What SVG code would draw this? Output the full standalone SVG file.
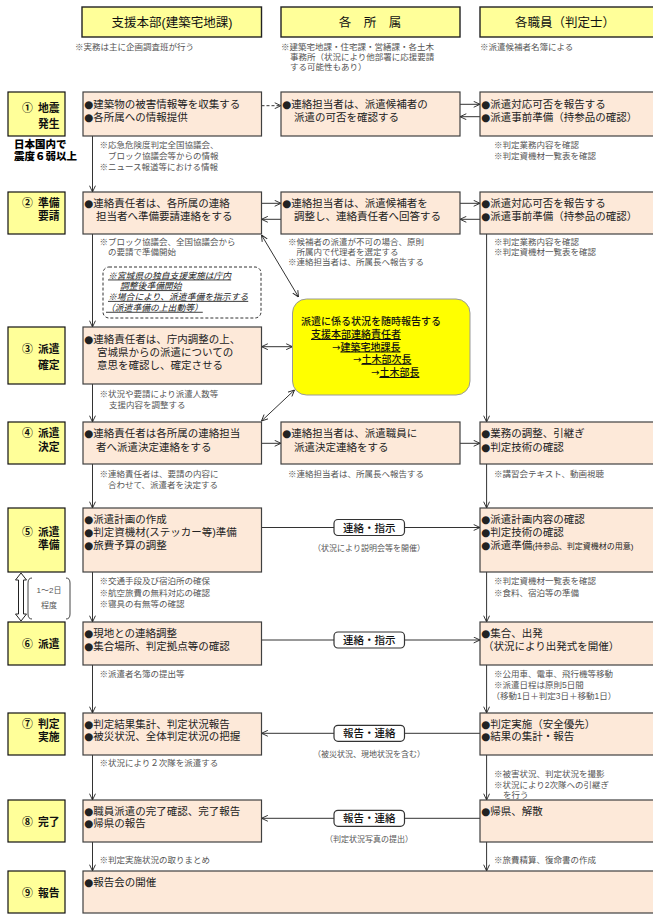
<svg xmlns="http://www.w3.org/2000/svg" width="653" height="915" viewBox="0 0 653 915">
<defs>
<style>
text{font-family:"Liberation Sans","Noto Sans CJK JP",sans-serif;}
.b{font-family:"DejaVu Sans",sans-serif}
.ar{font-family:"DejaVu Sans",sans-serif}
.hdr{fill:#ffff99;stroke:#222;stroke-width:1.4}
.ht{font-size:12.5px;fill:#111;text-anchor:middle}
.stg{fill:#ffff99;stroke:#111;stroke-width:1.2}
.st{font-size:10.8px;font-weight:700;fill:#111}
.box{fill:#fde9d9;stroke:#404040;stroke-width:1.2}
.bt{font-size:10.5px;fill:#222}
.nt{font-size:8.5px;fill:#555}
.lbl{fill:#fff;stroke:#333;stroke-width:1.2}
.lt{font-size:10.5px;fill:#111;text-anchor:middle;font-weight:500}
.sub{font-size:8px;fill:#555;text-anchor:middle}
.cn{fill:none;stroke:#333;stroke-width:1}
.dn{font-size:8.8px;fill:#222;font-style:italic;text-decoration:underline}
.yt{font-size:10px;fill:#111;font-weight:500}
.u{text-decoration:underline}
</style>
<marker id="ah" viewBox="0 0 10 10" refX="9.5" refY="5" markerWidth="7" markerHeight="7" markerUnits="userSpaceOnUse" orient="auto-start-reverse">
<path d="M0.5,0.8 L9.5,5 L0.5,9.2" fill="none" stroke="#222" stroke-width="1.3"/>
</marker>
</defs>
<rect x="0" y="0" width="653" height="915" fill="#fff"/>

<!-- headers -->
<g id="hdr-honbu"><rect class="hdr" x="82" y="7" width="179.5" height="30"/><text class="ht" x="172" y="27">支援本部(建築宅地課)</text></g>
<g id="hdr-shozoku"><rect class="hdr" x="281" y="7" width="179" height="30"/><text class="ht" x="370" y="27">各　所　属</text></g>
<g id="hdr-shokuin"><rect class="hdr" x="480" y="7" width="180" height="30"/><text class="ht" x="565" y="27">各職員（判定士）</text></g>
<g id="hdr-notes">
<text class="nt" x="75" y="50">※実務は主に企画調査班が行う</text>
<text class="nt" x="281" y="50">※建築宅地課・住宅課・営繕課・各土木<tspan x="290" y="60">事務所（状況により他部署に応援要請</tspan><tspan x="290" y="70">する可能性もあり）</tspan></text>
<text class="nt" x="480" y="50">※派遣候補者名簿による</text>
</g>

<!-- connectors -->
<g id="connectors" class="cn">
<path d="M261.5,105.7 H281" stroke-dasharray="3,2" marker-end="url(#ah)"/>
<path d="M460,104.3 H480" marker-end="url(#ah)"/>
<path d="M480,116.7 H460" marker-end="url(#ah)"/>
<path d="M92.5,136 V192" marker-end="url(#ah)"/>
<path d="M261.5,203.3 H281" marker-end="url(#ah)"/>
<path d="M281,219.3 H261.5" marker-end="url(#ah)"/>
<path d="M460,203.3 H480" marker-end="url(#ah)"/>
<path d="M480,219.3 H460" marker-end="url(#ah)"/>
<path d="M261.5,235 L298.5,297" marker-start="url(#ah)" marker-end="url(#ah)"/>
<path d="M92.5,234 V327" marker-end="url(#ah)"/>
<path d="M486.6,234 V422" marker-end="url(#ah)"/>
<path d="M261.5,346.7 H292.5" marker-start="url(#ah)" marker-end="url(#ah)"/>
<path d="M294.5,390 L261.5,421" marker-start="url(#ah)" marker-end="url(#ah)"/>
<path d="M92.5,384 V422" marker-end="url(#ah)"/>
<path d="M261.5,443.3 H281" marker-end="url(#ah)"/>
<path d="M460,443.3 H480" marker-end="url(#ah)"/>
<path d="M92.5,464 V508" marker-end="url(#ah)"/>
<path d="M486.6,464 V508" marker-end="url(#ah)"/>
<path d="M261.5,527.5 H480" marker-end="url(#ah)"/>
<path d="M92.5,572 V622" marker-end="url(#ah)"/>
<path d="M486.6,572 V622" marker-end="url(#ah)"/>
<path d="M261.5,640 H480" marker-end="url(#ah)"/>
<path d="M92.5,665 V713" marker-end="url(#ah)"/>
<path d="M486.6,665 V713" marker-end="url(#ah)"/>
<path d="M480,733.3 H261.5" marker-end="url(#ah)"/>
<path d="M92.5,755 V800" marker-end="url(#ah)"/>
<path d="M486.6,755 V800" marker-end="url(#ah)"/>
<path d="M480,818.3 H261.5" marker-end="url(#ah)"/>
<path d="M92.5,842 V871" marker-end="url(#ah)"/>
<path d="M486.6,842 V871" marker-end="url(#ah)"/>
</g>

<!-- stage labels -->
<g id="stage1"><rect class="stg" x="8" y="92" width="57" height="44"/><text class="st" x="22" y="112">①<tspan x="38">地震</tspan><tspan x="38" y="127.5">発生</tspan></text></g>
<g id="stage1-note"><text x="14" y="147.5" font-size="10.5px" font-weight="900" fill="#000">日本国内で<tspan x="14" y="159.5">震度６弱以上</tspan></text></g>
<g id="stage2"><rect class="stg" x="8" y="192" width="57" height="42"/><text class="st" x="22" y="206.8">②<tspan x="38">準備</tspan><tspan x="38" y="219.8">要請</tspan></text></g>
<g id="stage3"><rect class="stg" x="8" y="327" width="57" height="57"/><text class="st" x="22" y="352.5">③<tspan x="38">派遣</tspan><tspan x="38" y="369">確定</tspan></text></g>
<g id="stage4"><rect class="stg" x="8" y="422" width="57" height="42"/><text class="st" x="22" y="437">④<tspan x="38">派遣</tspan><tspan x="38" y="450.5">決定</tspan></text></g>
<g id="stage5"><rect class="stg" x="8" y="508" width="57" height="64"/><text class="st" x="22" y="535.5">⑤<tspan x="38">派遣</tspan><tspan x="38" y="549">準備</tspan></text></g>
<g id="stage6"><rect class="stg" x="8" y="622" width="57" height="43"/><text class="st" x="22" y="647.5">⑥<tspan x="38">派遣</tspan></text></g>
<g id="stage7"><rect class="stg" x="8" y="713" width="57" height="42"/><text class="st" x="22" y="727.5">⑦<tspan x="38">判定</tspan><tspan x="38" y="740.8">実施</tspan></text></g>
<g id="stage8"><rect class="stg" x="8" y="800" width="57" height="42"/><text class="st" x="22" y="825.5">⑧<tspan x="38">完了</tspan></text></g>
<g id="stage9"><rect class="stg" x="8" y="871" width="57" height="42"/><text class="st" x="22" y="896.5">⑨<tspan x="38">報告</tspan></text></g>

<g id="duration">
<path d="M21,573 L26.5,580 L23.5,580 L23.5,614 L26.5,614 L21,621 L15.5,614 L18.5,614 L18.5,580 L15.5,580 Z" fill="#fff" stroke="#222" stroke-width="1"/>
<path d="M32,578 Q28,578 28,583 L28,614 Q28,619 32,619" fill="none" stroke="#444" stroke-width="1"/>
<path d="M66,578 Q70,578 70,583 L70,614 Q70,619 66,619" fill="none" stroke="#444" stroke-width="1"/>
<text x="49" y="593" font-size="8px" fill="#555" text-anchor="middle">1～2日<tspan x="49" y="608">程度</tspan></text>
</g>

<!-- row 1 -->
<g id="r1-honbu"><rect class="box" x="83" y="92" width="178.5" height="44"/><text class="bt" x="84" y="108.2"><tspan class="b">●</tspan>建築物の被害情報等を収集する<tspan x="84" y="120.8" class="b">●</tspan>各所属への情報提供</text></g>
<g id="r1-shozoku"><rect class="box" x="281" y="92" width="179" height="44"/><text class="bt" x="282" y="108.2"><tspan class="b">●</tspan>連絡担当者は、派遣候補者の<tspan x="294" y="120.8">派遣の可否を確認する</tspan></text></g>
<g id="r1-shokuin"><rect class="box" x="480" y="92" width="180" height="44"/><text class="bt" x="481" y="108.2"><tspan class="b">●</tspan>派遣対応可否を報告する<tspan x="481" y="120.8" class="b">●</tspan>派遣事前準備（持参品の確認）</text></g>
<g id="r1-notes">
<text class="nt" x="99.5" y="148.2">※応急危険度判定全国協議会、<tspan x="108" y="159.2">ブロック協議会等からの情報</tspan><tspan x="99.5" y="170">※ニュース報道等における情報</tspan></text>
<text class="nt" x="494" y="148.2">※判定業務内容を確認<tspan x="494" y="159.2">※判定資機材一覧表を確認</tspan></text>
</g>

<!-- row 2 -->
<g id="r2-honbu"><rect class="box" x="83" y="192" width="178.5" height="42"/><text class="bt" x="84" y="207"><tspan class="b">●</tspan>連絡責任者は、各所属の連絡<tspan x="96" y="219.6">担当者へ準備要請連絡をする</tspan></text></g>
<g id="r2-shozoku"><rect class="box" x="281" y="192" width="179" height="42"/><text class="bt" x="282" y="207"><tspan class="b">●</tspan>連絡担当者は、派遣候補者を<tspan x="294" y="219.6">調整し、連絡責任者へ回答する</tspan></text></g>
<g id="r2-shokuin"><rect class="box" x="480" y="192" width="180" height="42"/><text class="bt" x="481" y="207"><tspan class="b">●</tspan>派遣対応可否を報告する<tspan x="481" y="219.6" class="b">●</tspan>派遣事前準備（持参品の確認）</text></g>
<g id="r2-notes">
<text class="nt" x="99.5" y="244.9">※ブロック協議会、全国協議会から<tspan x="108" y="254.9">の要請で準備開始</tspan></text>
<text class="nt" x="288" y="244.9">※候補者の派遣が不可の場合、原則<tspan x="296.6" y="254.9">所属内で代理者を選定する</tspan><tspan x="288" y="264.9">※連絡担当者は、所属長へ報告する</tspan></text>
<text class="nt" x="494" y="244.9">※判定業務内容を確認<tspan x="494" y="254.9">※判定資機材一覧表を確認</tspan></text>
</g>
<g id="r2-miyagi-note">
<rect x="103" y="267" width="158" height="51" rx="6" fill="#fff" stroke="#333" stroke-width="1" stroke-dasharray="3,2"/>
<text class="dn" x="108" y="278.5">※宮城県の独自支援実施は庁内<tspan x="120" y="289.2">調整後準備開始</tspan><tspan x="108" y="299.9">※場合により、派遣準備を指示する</tspan><tspan x="106" y="310.8">（派遣準備の上出動等）</tspan></text>
</g>

<!-- yellow report box -->
<g id="report-box">
<rect x="292.5" y="299" width="177.5" height="96" rx="14" fill="#ffff00" stroke="#999" stroke-width="1"/>
<text class="yt" x="301" y="324.8">派遣に係る状況を随時報告する<tspan class="u" x="311" y="338">支援本部連絡責任者</tspan><tspan x="332" y="350.5" class="ar">→</tspan><tspan class="u">建築宅地課長</tspan><tspan x="353" y="362.8" class="ar">→</tspan><tspan class="u">土木部次長</tspan><tspan x="371" y="376" class="ar">→</tspan><tspan class="u">土木部長</tspan></text>
</g>

<!-- row 3 -->
<g id="r3-honbu"><rect class="box" x="83" y="327" width="178.5" height="57"/><text class="bt" x="84" y="342.5" font-size="11px"><tspan class="b">●</tspan>連絡責任者は、庁内調整の上、<tspan x="97" y="356">宮城県からの派遣についての</tspan><tspan x="97" y="369">意思を確認し、確定させる</tspan></text></g>
<g id="r3-notes">
<text class="nt" x="99.5" y="396.5">※状況や要請により派遣人数等<tspan x="109" y="407.5">支援内容を調整する</tspan></text>
</g>

<!-- row 4 -->
<g id="r4-honbu"><rect class="box" x="83" y="422" width="178.5" height="42"/><text class="bt" x="84" y="437.3"><tspan class="b">●</tspan>連絡責任者は各所属の連絡担当<tspan x="96" y="450.7">者へ派遣決定連絡をする</tspan></text></g>
<g id="r4-shozoku"><rect class="box" x="281" y="422" width="179" height="42"/><text class="bt" x="282" y="437.3"><tspan class="b">●</tspan>連絡担当者は、派遣職員に<tspan x="294" y="450.7">派遣決定連絡をする</tspan></text></g>
<g id="r4-shokuin"><rect class="box" x="480" y="422" width="180" height="42"/><text class="bt" x="481" y="437.3"><tspan class="b">●</tspan>業務の調整、引継ぎ<tspan x="481" y="450.7" class="b">●</tspan>判定技術の確認</text></g>
<g id="r4-notes">
<text class="nt" x="99.5" y="476.5">※連絡責任者は、要請の内容に<tspan x="108" y="488.2">合わせて、派遣者を決定する</tspan></text>
<text class="nt" x="288" y="476.5">※連絡担当者は、所属長へ報告する</text>
<text class="nt" x="494" y="476.5">※講習会テキスト、動画視聴</text>
</g>

<!-- row 5 -->
<g id="r5-honbu"><rect class="box" x="83" y="508" width="178.5" height="64"/><text class="bt" x="84" y="523.3"><tspan class="b">●</tspan>派遣計画の作成<tspan x="84" y="536" class="b">●</tspan>判定資機材(ステッカー等)準備<tspan x="84" y="548.7" class="b">●</tspan>旅費予算の調整</text></g>
<g id="r5-shokuin"><rect class="box" x="480" y="508" width="180" height="64"/><text class="bt" x="481" y="523.3"><tspan class="b">●</tspan>派遣計画内容の確認<tspan x="481" y="536" class="b">●</tspan>判定技術の確認<tspan x="481" y="548.7" class="b">●</tspan>派遣準備<tspan font-size="8px">(持参品、判定資機材の用意)</tspan></text></g>
<g id="r5-label"><rect class="lbl" x="334" y="519.5" width="70.5" height="16" rx="4"/><text class="lt" x="369.3" y="531.5">連絡・指示</text><text class="sub" x="369" y="551">（状況により説明会等を開催）</text></g>
<g id="r5-notes">
<text class="nt" x="99.5" y="584.2">※交通手段及び宿泊所の確保<tspan x="99.5" y="595.5">※航空旅費の無料対応の確認</tspan><tspan x="99.5" y="606.5">※寝具の有無等の確認</tspan></text>
<text class="nt" x="494" y="584.2">※判定資機材一覧表を確認<tspan x="494" y="595.5">※食料、宿泊等の準備</tspan></text>
</g>

<!-- row 6 -->
<g id="r6-honbu"><rect class="box" x="83" y="622" width="178.5" height="43"/><text class="bt" x="84" y="637.2"><tspan class="b">●</tspan>現地との連絡調整<tspan x="84" y="649.8" class="b">●</tspan>集合場所、判定拠点等の確認</text></g>
<g id="r6-shokuin"><rect class="box" x="480" y="622" width="180" height="43"/><text class="bt" x="481" y="637.2"><tspan class="b">●</tspan>集合、出発<tspan x="483" y="649.8">（状況により出発式を開催）</tspan></text></g>
<g id="r6-label"><rect class="lbl" x="334" y="632" width="70.5" height="16" rx="4"/><text class="lt" x="369.3" y="644">連絡・指示</text></g>
<g id="r6-notes">
<text class="nt" x="99.5" y="676.5">※派遣者名簿の提出等</text>
<text class="nt" x="494" y="676.5">※公用車、電車、飛行機等移動<tspan x="494" y="687.5">※派遣日程は原則5日間</tspan><tspan x="491.6" y="699">（移動1日＋判定3日＋移動1日）</tspan></text>
</g>

<!-- row 7 -->
<g id="r7-honbu"><rect class="box" x="83" y="713" width="178.5" height="42"/><text class="bt" x="84" y="727.8"><tspan class="b">●</tspan>判定結果集計、判定状況報告<tspan x="84" y="740.4" class="b">●</tspan>被災状況、全体判定状況の把握</text></g>
<g id="r7-shokuin"><rect class="box" x="480" y="713" width="180" height="42"/><text class="bt" x="481" y="727.8"><tspan class="b">●</tspan>判定実施（安全優先）<tspan x="481" y="740.4" class="b">●</tspan>結果の集計・報告</text></g>
<g id="r7-label"><rect class="lbl" x="334" y="725.3" width="70.5" height="16" rx="4"/><text class="lt" x="369.3" y="737.3">報告・連絡</text><text class="sub" x="369" y="756.5">（被災状況、現地状況を含む）</text></g>
<g id="r7-notes">
<text class="nt" x="99.5" y="766">※状況により２次隊を派遣する</text>
<text class="nt" x="494" y="777.2">※被害状況、判定状況を撮影<tspan x="494" y="787.5">※状況により2次隊への引継ぎ</tspan><tspan x="503" y="797.5">を行う</tspan></text>
</g>

<!-- row 8 -->
<g id="r8-honbu"><rect class="box" x="83" y="800" width="178.5" height="42"/><text class="bt" x="84" y="814.8"><tspan class="b">●</tspan>職員派遣の完了確認、完了報告<tspan x="84" y="827.4" class="b">●</tspan>帰県の報告</text></g>
<g id="r8-shokuin"><rect class="box" x="480" y="800" width="180" height="42"/><text class="bt" x="481" y="814.8"><tspan class="b">●</tspan>帰県、解散</text></g>
<g id="r8-label"><rect class="lbl" x="334" y="810.3" width="70.5" height="16" rx="4"/><text class="lt" x="369.3" y="822.3">報告・連絡</text><text class="sub" x="369" y="841.5">（判定状況写真の提出）</text></g>
<g id="r8-notes">
<text class="nt" x="99.5" y="863">※判定実施状況の取りまとめ</text>
<text class="nt" x="494" y="863">※旅費精算、復命書の作成</text>
</g>

<!-- row 9 -->
<g id="r9-all"><rect class="box" x="83" y="871" width="577" height="42"/><text class="bt" x="84" y="885.7"><tspan class="b">●</tspan>報告会の開催</text></g>
</svg>
